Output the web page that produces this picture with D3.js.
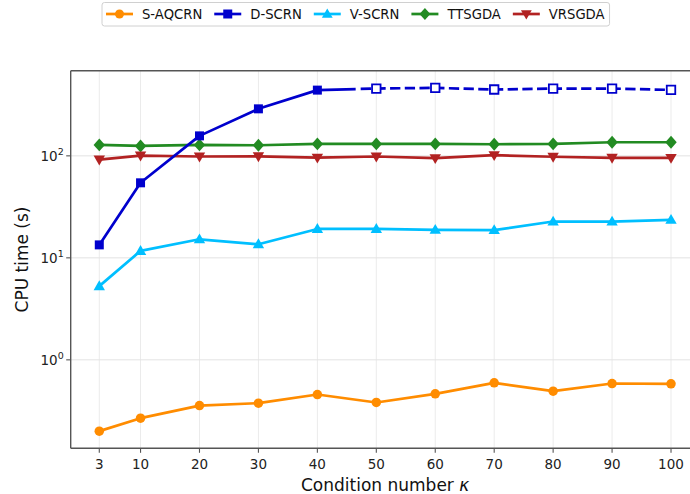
<!DOCTYPE html>
<html><head><meta charset="utf-8">
<script src="https://cdn.jsdelivr.net/npm/d3@7"></script>
<style>body{margin:0;background:#fff}svg{display:block;font-family:"DejaVu Sans",sans-serif}</style>
</head><body><svg id="c" width="690" height="494"></svg>
<script>
const kappa = [3, 10, 20, 30, 40, 50, 60, 70, 80, 90, 100];
const xTicks = [3, 10, 20, 30, 40, 50, 60, 70, 80, 90, 100];
const yTicks = [1, 10, 100];
const seriesNames = ["S-AQCRN", "D-SCRN", "V-SCRN", "TTSGDA", "VRSGDA"];
const sAQCRN = [0.20, 0.268, 0.356, 0.376, 0.457, 0.382, 0.464, 0.595, 0.493, 0.586, 0.582];
const dSCRN = [13.4, 54.4, 157, 289, 441, 457, 464, 447, 457, 457, 443];
const dSCRNSolidCount = 5; // first 5 points solid, rest dashed/open
const vSCRN = [5.28, 11.7, 15.2, 13.6, 19.2, 19.2, 18.8, 18.7, 22.7, 22.7, 23.6];
const ttsgda = [128, 125, 128, 127, 131, 131, 131, 130, 131, 136, 136];
const vrsgda = [92, 100.7, 98.5, 99, 96, 98.5, 95, 101.5, 98, 95.6, 95.5];

const colors = {"S-AQCRN":"#ff8c00","D-SCRN":"#0000cd","V-SCRN":"#00bfff","TTSGDA":"#228b22","VRSGDA":"#b22222"};
const markers = {"S-AQCRN":"circle","D-SCRN":"square","V-SCRN":"triangle","TTSGDA":"diamond","VRSGDA":"tridown"};
const values = {"S-AQCRN":sAQCRN,"D-SCRN":dSCRN,"V-SCRN":vSCRN,"TTSGDA":ttsgda,"VRSGDA":vrsgda};

const svg = d3.select("#c");
const L = 70.7, R = 699.6, T = 70.7, B = 448.3;

const xmin = d3.min(kappa), xmax = d3.max(kappa), xm = (xmax - xmin) * 0.05;
const x = d3.scaleLinear().domain([xmin - xm, xmax + xm]).range([L, R]);
const allV = [].concat(...Object.values(values));
const lmin = Math.log10(d3.min(allV)), lmax = Math.log10(d3.max(allV)), lm = (lmax - lmin) * 0.05;
const y = d3.scaleLog().domain([Math.pow(10, lmin - lm), Math.pow(10, lmax + lm)]).range([B, T]);

// grid
const g = svg.append("g");
g.selectAll(".vg").data(xTicks).join("line")
  .attr("x1", d => x(d)).attr("x2", d => x(d)).attr("y1", T).attr("y2", B)
  .attr("stroke", "#ebebeb").attr("stroke-width", 1);
g.selectAll(".hg").data(yTicks).join("line")
  .attr("x1", L).attr("x2", R).attr("y1", d => y(d)).attr("y2", d => y(d))
  .attr("stroke", "#e3e3e3").attr("stroke-width", 1);

// markers
function sym(type, size) {
  const s = size;
  switch (type) {
    case "circle": return d3.symbol(d3.symbolCircle, Math.PI * (s/2) * (s/2))();
    case "square": return `M${-s/2},${-s/2}h${s}v${s}h${-s}Z`;
    case "triangle": return `M0,${-s*0.62}L${s*0.6},${s*0.42}L${-s*0.6},${s*0.42}Z`;
    case "tridown": return `M0,${s*0.62}L${s*0.6},${-s*0.42}L${-s*0.6},${-s*0.42}Z`;
    case "diamond": return `M0,${-s*0.68}L${s*0.6},0L0,${s*0.68}L${-s*0.6},0Z`;
  }
}

const line = d3.line().x(d => x(d[0])).y(d => y(d[1]));
const plot = svg.append("g");

function drawSeries(name) {
  const vals = values[name];
  const pts = kappa.map((k, i) => [k, vals[i]]);
  const col = colors[name];
  if (name === "D-SCRN") {
    const solid = pts.slice(0, dSCRNSolidCount);
    const dashed = pts.slice(dSCRNSolidCount - 1);
    plot.append("path").attr("d", line(solid)).attr("fill", "none")
      .attr("stroke", col).attr("stroke-width", 2.7).attr("stroke-linejoin", "round");
    const seg = Math.hypot(x(dashed[1][0]) - x(dashed[0][0]), y(dashed[1][1]) - y(dashed[0][1]));
    let arr = [seg * 0.65, 5];
    for (let i = 0; i < 80; i++) arr.push(10.3, 4.4);
    plot.append("path").attr("d", line(dashed)).attr("fill", "none")
      .attr("stroke", col).attr("stroke-width", 2.7).attr("stroke-dasharray", arr.join(" "));
    plot.selectAll(null).data(solid).join("path")
      .attr("transform", d => `translate(${x(d[0])},${y(d[1])})`)
      .attr("d", sym("square", 9)).attr("fill", col);
    plot.selectAll(null).data(pts.slice(dSCRNSolidCount)).join("path")
      .attr("transform", d => `translate(${x(d[0])},${y(d[1])})`)
      .attr("d", sym("square", 8.5)).attr("fill", "#fff").attr("stroke", col).attr("stroke-width", 1.8);
  } else {
    plot.append("path").attr("d", line(pts)).attr("fill", "none")
      .attr("stroke", col).attr("stroke-width", 2.7).attr("stroke-linejoin", "round");
    plot.selectAll(null).data(pts).join("path")
      .attr("transform", d => `translate(${x(d[0])},${y(d[1])})`)
      .attr("d", sym(markers[name], 9.5)).attr("fill", col);
  }
}
["S-AQCRN", "V-SCRN", "TTSGDA", "VRSGDA", "D-SCRN"].forEach(drawSeries);

// spines
const sp = "#555";
svg.append("line").attr("x1", L).attr("x2", L).attr("y1", T).attr("y2", B).attr("stroke", sp).attr("stroke-width", 1.4);
svg.append("line").attr("x1", L).attr("x2", R).attr("y1", T).attr("y2", T).attr("stroke", sp).attr("stroke-width", 1.4);
svg.append("line").attr("x1", L).attr("x2", R).attr("y1", B).attr("y2", B).attr("stroke", sp).attr("stroke-width", 1.4);

// x ticks
const xt = svg.append("g");
xt.selectAll("line").data(xTicks).join("line")
  .attr("x1", d => x(d)).attr("x2", d => x(d)).attr("y1", B).attr("y2", B + 4.5)
  .attr("stroke", sp).attr("stroke-width", 1.1);
xt.selectAll("text").data(xTicks).join("text")
  .attr("x", d => x(d)).attr("y", B + 21).attr("text-anchor", "middle")
  .attr("font-size", 13.5).attr("fill", "#222").text(d => d);

// y ticks
const yt = svg.append("g");
yt.selectAll("line").data(yTicks).join("line")
  .attr("x1", L - 4.5).attr("x2", L).attr("y1", d => y(d)).attr("y2", d => y(d))
  .attr("stroke", sp).attr("stroke-width", 1.1);
const ytl = yt.selectAll("text").data(yTicks).join("text")
  .attr("x", L - 7).attr("y", d => y(d) + 5).attr("text-anchor", "end")
  .attr("font-size", 13.5).attr("fill", "#222");
ytl.append("tspan").text("10");
ytl.append("tspan").attr("dy", -6).attr("font-size", 9.5).text(d => Math.round(Math.log10(d)));

// axis labels
const xl = svg.append("text").attr("x", (L + R) / 2).attr("y", 491).attr("text-anchor", "middle")
  .attr("font-size", 17).attr("fill", "#111");
xl.append("tspan").text("Condition number ");
xl.append("tspan").attr("font-style", "italic").text("κ");
svg.append("text").attr("transform", `translate(28,${(T + B) / 2}) rotate(-90)`)
  .attr("text-anchor", "middle").attr("font-size", 17).attr("fill", "#111").text("CPU time (s)");

// legend
const lg = svg.append("g");
const box = lg.append("rect").attr("x", 102).attr("y", 2.5).attr("height", 23.5).attr("rx", 2.5)
  .attr("fill", "#fff").attr("stroke", "#d0d0d0").attr("stroke-width", 1);
let cx = 106;
seriesNames.forEach(name => {
  const col = colors[name];
  const cy = 14;
  lg.append("line").attr("x1", cx).attr("x2", cx + 27).attr("y1", cy).attr("y2", cy)
    .attr("stroke", col).attr("stroke-width", 2.7);
  lg.append("path").attr("transform", `translate(${cx + 13.5},${cy})`)
    .attr("d", sym(markers[name], 9)).attr("fill", col);
  const t = lg.append("text").attr("x", cx + 36).attr("y", cy + 4.5).attr("font-size", 13.2)
    .attr("fill", "#111").text(name);
  cx = cx + 36 + t.node().getComputedTextLength() + 12;
});
box.attr("width", cx - 12 + 5 - 102);
</script></body></html>
